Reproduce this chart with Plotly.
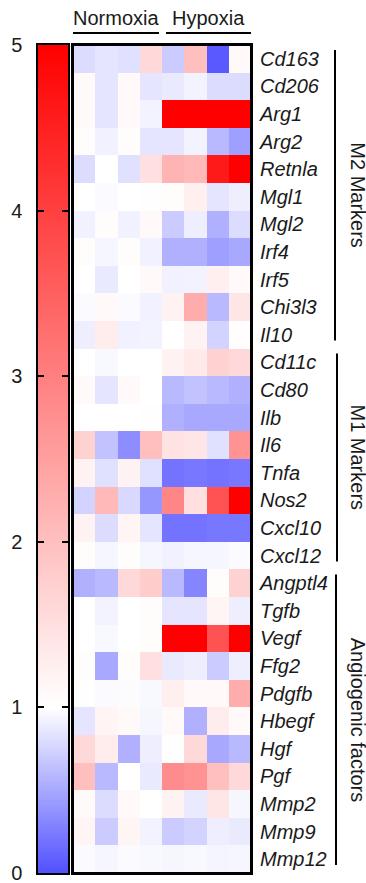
import numpy as np
import plotly.graph_objects as go

W, H = 366, 883

samples = ["N1", "N2", "N3", "N4", "H1", "H2", "H3", "H4"]

m2_genes = ["Cd163", "Cd206", "Arg1", "Arg2", "Retnla", "Mgl1", "Mgl2",
            "Irf4", "Irf5", "Chi3l3", "Il10"]
m1_genes = ["Cd11c", "Cd80", "Ilb", "Il6", "Tnfa", "Nos2", "Cxcl10", "Cxcl12"]
angio_genes = ["Angptl4", "Tgfb", "Vegf", "Ffg2", "Pdgfb", "Hbegf", "Hgf",
               "Pgf", "Mmp2", "Mmp9", "Mmp12"]

m2_values = [
    [0.80, 0.85, 0.82, 1.60, 0.70, 2.00, 0.05, 1.10],
    [1.10, 0.85, 1.10, 0.85, 0.88, 0.93, 0.80, 0.80],
    [1.10, 0.85, 1.10, 0.93, 5.00, 5.00, 5.00, 5.00],
    [1.05, 0.92, 1.05, 0.85, 0.85, 0.93, 0.60, 0.45],
    [0.80, 1.00, 0.82, 1.50, 2.20, 2.10, 4.60, 5.00],
    [1.00, 0.97, 1.00, 1.02, 1.05, 1.25, 0.85, 0.90],
    [0.92, 1.05, 0.92, 1.10, 0.70, 0.90, 0.55, 0.80],
    [1.05, 0.95, 1.05, 0.92, 0.55, 0.55, 0.45, 0.50],
    [1.00, 0.88, 1.00, 1.10, 0.92, 0.93, 1.25, 1.10],
    [0.97, 1.10, 0.97, 0.92, 1.20, 2.30, 0.60, 1.40],
    [0.90, 1.30, 0.92, 0.93, 1.00, 1.20, 0.75, 1.03],
]
m1_values = [
    [1.00, 0.96, 1.00, 1.00, 1.20, 1.35, 1.70, 1.60],
    [1.10, 0.85, 1.10, 1.00, 0.60, 0.65, 0.60, 0.55],
    [1.00, 1.00, 1.00, 1.02, 0.55, 0.50, 0.50, 0.50],
    [1.70, 0.65, 0.35, 2.00, 1.45, 1.40, 0.82, 2.70],
    [1.20, 0.82, 1.20, 0.82, 0.20, 0.22, 0.20, 0.22],
    [0.75, 2.10, 0.78, 0.40, 2.90, 1.50, 3.70, 5.00],
    [1.20, 0.80, 1.15, 0.85, 0.20, 0.20, 0.22, 0.22],
    [1.05, 0.95, 1.05, 0.95, 0.92, 0.95, 0.95, 0.97],
]
angio_values = [
    [0.55, 0.60, 1.60, 1.80, 0.60, 0.30, 1.05, 1.70],
    [1.00, 0.93, 1.00, 1.05, 0.85, 0.85, 1.15, 0.90],
    [1.00, 0.96, 1.00, 1.05, 5.00, 5.00, 3.70, 5.00],
    [1.05, 0.50, 1.05, 1.50, 0.88, 0.90, 0.70, 0.90],
    [1.02, 0.97, 0.98, 0.96, 1.25, 1.10, 1.10, 2.30],
    [0.85, 1.15, 1.10, 0.95, 1.10, 0.55, 1.30, 1.10],
    [1.60, 1.30, 0.55, 0.90, 1.02, 1.60, 0.50, 0.60],
    [2.00, 0.60, 1.00, 0.88, 2.80, 2.70, 2.00, 1.60],
    [1.10, 0.80, 1.10, 1.00, 1.20, 0.88, 1.40, 0.95],
    [1.15, 0.70, 1.15, 0.93, 0.70, 0.75, 0.90, 0.88],
    [0.97, 0.95, 0.97, 0.96, 0.95, 0.96, 0.94, 0.95],
]

group_names = ["M2 Markers", "M1 Markers", "Angiogenic factors"]
group_sizes = [len(m2_genes), len(m1_genes), len(angio_genes)]
condition_names = ["Normoxia", "Hypoxia"]
scale_ticks = [0, 1, 2, 3, 4, 5]

genes = m2_genes + m1_genes + angio_genes
z = m2_values + m1_values + angio_values

colorscale = [[0.0, "rgb(80,80,255)"], [0.2, "rgb(255,255,255)"], [1.0, "rgb(255,0,0)"]]


def px(x):
    return x / W


def py(y):
    return 1 - y / H


hm_x0, hm_x1 = 73, 251
hm_y0, hm_y1 = 45, 873
cb_x0, cb_x1 = 38, 68

fig = go.Figure()

fig.add_trace(go.Heatmap(
    z=z, x=samples, y=genes, zmin=0, zmax=5, colorscale=colorscale,
    showscale=False, xaxis="x", yaxis="y", hoverinfo="skip",
))

ramp = np.linspace(0, 5, 501)
fig.add_trace(go.Heatmap(
    z=ramp.reshape(-1, 1), x=[0], y=ramp, zmin=0, zmax=5, colorscale=colorscale,
    showscale=False, xaxis="x2", yaxis="y2", hoverinfo="skip",
))

font_family = "Liberation Sans, Arial, sans-serif"
txt_color = "#1a1a1a"

fig.update_layout(
    width=W, height=H,
    margin=dict(l=0, r=0, t=0, b=0),
    paper_bgcolor="white", plot_bgcolor="white",
    font=dict(family=font_family, color=txt_color, size=20),
    xaxis=dict(domain=[px(hm_x0), px(hm_x1)], showticklabels=False, ticks="",
               showgrid=False, zeroline=False, automargin=False),
    yaxis=dict(domain=[py(hm_y1), py(hm_y0)], side="right", autorange="reversed",
               ticks="", showgrid=False, zeroline=False, automargin=False,
               ticklabelstandoff=8,
               tickfont=dict(size=20, style="italic", family=font_family, color=txt_color)),
    xaxis2=dict(domain=[px(cb_x0), px(cb_x1)], showticklabels=False, ticks="",
                showgrid=False, zeroline=False, automargin=False,
                showline=True, linecolor="black", linewidth=1.5, mirror=True,
                anchor="y2", range=[-0.5, 0.5]),
    yaxis2=dict(domain=[py(hm_y1), py(hm_y0)], side="left", range=[0, 5],
                anchor="x2", tickvals=scale_ticks, ticks="inside", ticklen=6,
                tickcolor="black", tickwidth=1.5,
                showline=True, linecolor="black", linewidth=1.5, mirror="ticks",
                showgrid=False, zeroline=False, automargin=False,
                ticklabelstandoff=10, ticklabeloverflow="allow",
                tickfont=dict(size=20, family=font_family, color=txt_color)),
)

shapes = []
# heatmap frame
shapes.append(dict(type="rect", xref="paper", yref="paper",
                   x0=px(hm_x0 - 0.5), x1=px(hm_x1 + 0.5), y0=py(hm_y1 + 0.5), y1=py(hm_y0 - 0.5),
                   line=dict(color="black", width=3)))

annotations = []
# condition headers
n_norm = 4
col_w = (hm_x1 - hm_x0) / len(samples)
header_spans = [(hm_x0, hm_x0 + n_norm * col_w - 3), (hm_x0 + n_norm * col_w + 4, hm_x1)]
for name, (a, b) in zip(condition_names, header_spans):
    shapes.append(dict(type="line", xref="paper", yref="paper",
                       x0=px(a), x1=px(b), y0=py(33), y1=py(33),
                       line=dict(color="black", width=2)))
    annotations.append(dict(text=name, x=px((a + b) / 2), y=py(18), xref="paper", yref="paper",
                            showarrow=False, font=dict(size=20, color=txt_color),
                            xanchor="center", yanchor="middle"))

# group brackets
row_h = (hm_y1 - hm_y0) / len(genes)
start = 0
line_x = [335, 337, 336]
for name, n, lx in zip(group_names, group_sizes, line_x):
    top = hm_y0 + start * row_h + 5
    bot = hm_y0 + (start + n) * row_h - 8
    shapes.append(dict(type="line", xref="paper", yref="paper",
                       x0=px(lx), x1=px(lx), y0=py(top), y1=py(bot),
                       line=dict(color="black", width=2)))
    annotations.append(dict(text=name, x=px(345), y=py((top + bot) / 2), xref="paper", yref="paper",
                            showarrow=False, textangle=90, font=dict(size=20, color=txt_color),
                            xanchor="left", yanchor="middle"))
    start += n

fig.update_layout(shapes=shapes, annotations=annotations)

fig.write_html("out.html",
               config={"displayModeBar": False},
               post_script="document.body.style.margin='0';document.body.style.overflow='hidden';")
